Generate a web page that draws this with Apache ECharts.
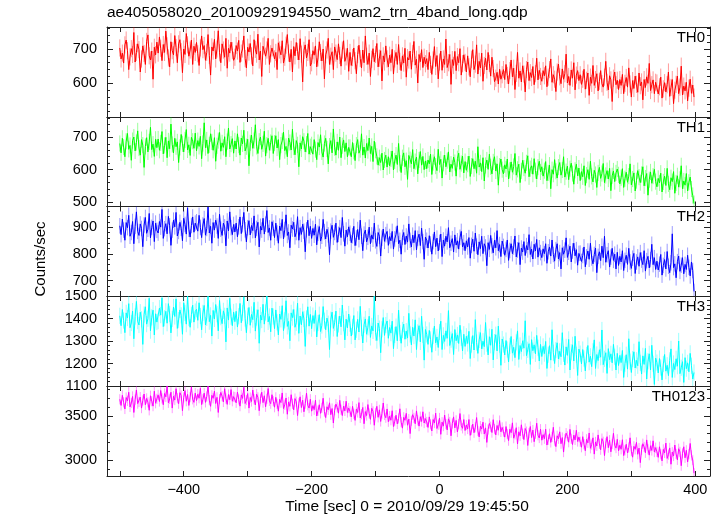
<!DOCTYPE html>
<html>
<head>
<meta charset="utf-8">
<script src="https://cdn.jsdelivr.net/npm/echarts@6.0.0/dist/echarts.min.js"></script>
<style>
html,body{margin:0;padding:0;background:#ffffff;}
#chart{width:723px;height:516px;}
</style>
</head>
<body>
<div id="chart"></div>
<script>
// ---------------- data ----------------
const titleText = "ae405058020_20100929194550_wam2_trn_4band_long.qdp";
const xAxisTitle = "Time [sec] 0 = 2010/09/29 19:45:50";
const yAxisTitle = "Counts/sec";
const bandNames = ["TH0", "TH1", "TH2", "TH3", "TH0123"];
const timeStart = -500;   // first bin time (sec)
const binSize = 2;        // bin width (sec)
const bandErrors = [25, 25, 29, 36, 58];   // typical 1-sigma error bar per band (counts/sec)

const th0 = [
703,671,688,659,712,726,695,640,677,701,684,748,662,690,715,698,633,671,709,687,655,722,741,680,668,694,612,705,683,720,
688,735,702,666,713,690,752,709,674,648,721,695,683,739,704,660,715,727,692,631,700,684,745,712,679,697,726,655,708,690,
719,686,652,703,738,698,710,667,690,742,681,624,706,694,728,671,700,753,689,660,715,697,676,731,644,702,688,720,695,667,
676,710,694,725,661,688,700,738,672,645,705,691,716,680,651,727,699,685,743,668,694,620,708,712,679,697,731,655,686,703,
705,671,690,640,718,697,683,724,659,676,711,742,688,662,699,633,707,680,719,693,668,730,685,604,696,712,674,690,727,651,
660,695,682,709,648,674,721,690,665,700,613,683,697,731,655,679,692,640,706,688,669,715,681,650,697,724,664,677,702,635,
690,652,675,703,666,628,684,711,672,645,697,660,738,679,655,688,620,670,701,663,684,716,648,673,695,607,680,662,709,671,
648,682,660,699,627,671,690,655,713,664,637,680,659,702,618,675,668,694,641,687,722,653,670,601,684,663,698,646,676,657,
672,640,690,655,626,668,707,649,681,613,662,694,638,671,655,729,646,660,684,597,669,652,693,637,678,660,701,624,657,683,
661,633,680,648,619,670,698,640,656,712,627,664,645,688,606,652,673,639,690,658,621,676,643,605,615,632,598,641,612,625,
640,611,655,623,598,637,668,619,644,582,629,690,615,636,604,651,627,575,640,662,608,631,617,649,596,628,673,610,638,620,
606,637,622,651,590,618,640,671,603,625,612,576,633,656,619,599,642,612,628,685,601,620,594,639,615,660,581,624,637,608,
625,597,612,641,583,609,630,565,618,600,652,594,611,628,578,606,637,599,589,618,664,603,581,622,610,547,615,633,596,609,
582,611,594,626,570,600,617,589,645,598,560,608,585,621,597,574,630,593,604,552,611,588,619,600,658,579,596,610,570,603,
601,569,590,618,557,584,602,575,596,633,562,588,611,541,580,597,621,570,589,650,566,592,578,603,549,586,612,571,595,560
];
const th1 = [
681,652,697,670,640,688,712,663,675,629,690,701,658,684,720,667,645,693,676,607,672,699,655,686,731,662,679,641,694,668,
695,660,683,718,649,675,700,637,689,665,741,678,652,697,671,686,622,669,709,680,655,692,724,661,677,644,700,688,666,713,
658,690,672,703,634,681,745,668,692,650,677,711,686,660,699,626,674,690,715,657,683,669,702,640,687,729,664,679,696,651,
689,664,711,676,645,698,680,722,658,671,694,612,683,707,666,690,739,672,650,688,701,663,680,719,642,676,697,660,684,705,
650,682,705,667,693,631,676,689,716,659,672,640,698,684,661,725,670,646,690,677,609,683,664,702,688,655,679,712,648,671,
677,648,693,662,631,684,670,708,655,639,681,697,664,618,673,690,652,726,668,645,686,660,701,637,674,692,656,683,640,669,
669,640,684,657,628,676,693,651,662,711,645,670,636,681,659,698,650,672,625,688,660,641,614,637,622,651,599,630,645,608,
640,612,633,658,599,627,645,616,681,620,591,637,652,609,628,570,644,631,618,662,603,625,639,587,630,656,614,641,600,627,
603,630,618,648,585,622,640,611,597,663,616,632,574,620,645,609,628,655,593,617,604,639,622,580,634,651,601,619,642,590,
625,598,617,642,579,611,634,603,626,589,671,608,621,594,637,565,613,630,601,648,609,587,624,640,596,618,552,611,633,600,
587,615,602,633,571,598,624,592,610,650,583,601,617,560,596,629,605,589,621,643,578,603,612,586,634,597,571,608,626,593,
609,580,597,625,566,590,614,541,600,586,631,595,574,608,622,583,599,640,577,594,611,569,603,620,588,555,598,617,581,605,
566,594,578,612,551,583,600,570,626,579,562,598,585,545,590,607,573,588,619,560,582,597,571,604,535,581,596,563,590,602,
584,556,575,603,545,572,592,561,580,618,553,571,590,534,566,597,577,560,585,609,550,574,588,521,569,593,558,580,601,563,
547,573,559,589,531,562,580,551,604,556,538,575,563,594,527,559,581,546,570,612,541,565,552,588,534,561,577,540,520,495
];
const th2 = [
905,872,930,889,851,917,898,944,866,880,921,838,903,957,884,869,912,895,827,908,936,877,892,951,860,899,923,846,915,888,
878,921,900,966,858,894,913,875,940,905,832,889,926,901,955,867,884,918,896,849,933,910,874,972,892,863,906,938,881,915,
920,885,944,899,861,908,932,870,895,975,878,903,840,917,889,926,904,858,948,892,869,915,901,830,923,886,957,898,872,910,
882,915,864,901,938,876,909,955,890,845,898,924,871,906,887,942,860,895,918,826,903,889,933,874,911,962,880,897,851,920,
896,861,915,878,840,904,887,929,856,891,946,869,882,823,907,893,918,864,880,939,851,898,873,911,885,808,890,926,868,903,
858,895,870,911,834,877,902,848,866,929,883,856,892,871,797,885,907,862,880,915,843,873,898,861,936,875,829,889,864,901,
877,842,868,903,831,860,891,853,926,866,812,874,889,845,862,900,838,871,855,915,849,828,880,866,792,859,893,847,872,884,
832,865,849,884,818,856,873,905,838,851,799,862,880,835,867,844,912,851,826,870,842,887,815,858,874,831,896,846,780,863,
851,822,868,837,799,846,882,827,859,811,843,874,790,852,829,866,845,898,823,840,857,807,871,833,849,818,862,884,826,842,
812,849,826,861,784,832,855,810,878,829,797,845,820,866,801,838,826,756,842,817,869,830,804,851,823,887,812,835,790,848,
828,795,817,852,776,813,838,801,826,867,789,815,842,760,822,807,846,794,831,815,872,798,818,781,836,811,854,788,823,805,
786,819,801,838,765,808,826,792,852,798,773,816,838,781,805,744,823,799,814,860,787,806,829,770,811,840,793,816,758,802,
803,772,794,826,752,789,811,780,840,785,763,798,822,730,791,808,775,829,786,866,769,797,812,751,788,821,776,799,744,806,
757,791,770,812,738,776,795,761,821,770,746,784,802,727,770,789,754,805,777,760,812,736,775,791,748,779,836,760,786,742,
773,740,762,798,721,757,779,744,809,754,730,767,875,749,763,711,771,792,735,758,786,726,761,742,795,750,718,770,738,660
];
const th3 = [
1412,1368,1440,1391,1337,1425,1402,1466,1359,1380,1433,1310,1409,1476,1388,1371,1428,1396,1285,1418,1452,1375,1399,1490,1346,1405,1437,1327,1421,1384,
1388,1446,1415,1492,1364,1401,1432,1379,1466,1420,1336,1398,1451,1409,1487,1356,1393,1438,1414,1330,1470,1425,1375,1500,1402,1361,1417,1459,1384,1431,
1441,1392,1470,1411,1350,1425,1458,1371,1403,1499,1386,1414,1322,1436,1398,1462,1419,1345,1480,1406,1377,1434,1412,1296,1447,1393,1490,1408,1368,1429,
1386,1432,1362,1410,1467,1381,1424,1496,1400,1337,1412,1449,1370,1418,1395,1472,1344,1404,1439,1290,1415,1393,1463,1375,1427,1500,1385,1409,1341,1446,
1409,1355,1438,1383,1327,1420,1396,1457,1346,1392,1479,1365,1387,1301,1425,1404,1440,1361,1381,1468,1334,1411,1372,1430,1398,1276,1400,1452,1366,1418,
1355,1413,1378,1436,1318,1380,1417,1342,1369,1453,1390,1350,1402,1377,1262,1395,1428,1356,1381,1433,1320,1374,1411,1363,1460,1379,1305,1397,1358,1420,
1377,1322,1363,1413,1305,1350,1396,1340,1454,1358,1291,1372,1398,1330,1361,1410,1316,1367,1345,1500,1337,1302,1380,1355,1248,1352,1404,1325,1371,1389,
1312,1360,1335,1388,1266,1327,1364,1301,1437,1336,1290,1349,1375,1308,1344,1313,1423,1329,1283,1361,1322,1394,1262,1338,1368,1296,1410,1327,1215,1351,
1329,1285,1347,1307,1250,1322,1366,1292,1318,1271,1340,1388,1262,1325,1298,1345,1312,1435,1280,1306,1333,1240,1351,1301,1327,1289,1370,1314,1256,1330,
1276,1321,1289,1343,1222,1284,1324,1260,1395,1293,1245,1305,1337,1265,1299,1275,1382,1288,1238,1319,1281,1352,1216,1295,1328,1256,1366,1284,1192,1309,
1284,1238,1302,1262,1207,1278,1320,1246,1272,1226,1294,1345,1218,1280,1253,1301,1268,1390,1235,1261,1288,1196,1306,1257,1283,1243,1325,1270,1211,1285,
1231,1276,1244,1298,1178,1239,1279,1215,1350,1248,1200,1260,1292,1220,1254,1230,1337,1243,1193,1274,1236,1307,1171,1250,1283,1211,1321,1239,1147,1264,
1244,1198,1262,1222,1167,1238,1280,1206,1232,1186,1254,1305,1178,1240,1213,1261,1228,1349,1195,1221,1248,1156,1266,1217,1243,1203,1285,1230,1171,1245,
1191,1236,1204,1258,1138,1199,1239,1175,1310,1208,1160,1220,1252,1180,1214,1190,1297,1203,1153,1234,1196,1267,1131,1210,1243,1171,1281,1199,1107,1224,
1204,1158,1222,1182,1127,1198,1240,1166,1192,1146,1214,1265,1138,1200,1173,1221,1188,1300,1155,1181,1208,1116,1226,1177,1203,1163,1245,1190,1131,1160
];
const th0123 = [
3690,3620,3735,3655,3580,3710,3672,3770,3603,3648,3722,3540,3685,3796,3641,3660,3715,3590,3677,3750,3628,3700,3655,3565,3730,3668,3612,3782,3645,3695,
3740,3665,3790,3700,3628,3756,3718,3842,3650,3695,3770,3590,3725,3681,3810,3702,3640,3765,3733,3560,3712,3789,3668,3745,3620,3715,3830,3690,3655,3760,
3675,3748,3702,3815,3630,3690,3760,3655,3722,3838,3680,3610,3735,3701,3783,3642,3712,3540,3692,3768,3725,3660,3810,3698,3632,3744,3685,3800,3668,3720,
3715,3650,3772,3688,3612,3740,3700,3826,3642,3682,3755,3590,3710,3665,3795,3690,3625,3748,3712,3560,3698,3770,3652,3730,3605,3695,3812,3672,3640,3742,
3668,3600,3712,3638,3555,3690,3652,3762,3585,3628,3705,3520,3660,3610,3742,3637,3570,3698,3662,3505,3645,3718,3596,3680,3548,3640,3760,3622,3590,3690,
3555,3618,3572,3680,3500,3560,3628,3530,3592,3702,3550,3482,3605,3571,3650,3515,3585,3420,3566,3635,3598,3532,3678,3571,3505,3612,3558,3668,3540,3590,
3552,3490,3610,3525,3450,3580,3540,3652,3478,3521,3597,3412,3550,3505,3630,3528,3462,3588,3552,3395,3535,3610,3485,3570,3438,3528,3648,3512,3480,3580,
3435,3498,3452,3560,3380,3440,3508,3410,3472,3582,3430,3362,3485,3451,3530,3395,3465,3300,3446,3515,3478,3412,3558,3451,3385,3492,3438,3548,3420,3470,
3432,3370,3490,3405,3330,3460,3420,3532,3358,3401,3477,3292,3430,3385,3510,3408,3342,3468,3432,3275,3415,3490,3365,3450,3318,3408,3528,3392,3360,3460,
3335,3398,3352,3460,3280,3340,3408,3310,3372,3482,3330,3262,3385,3351,3430,3295,3365,3200,3346,3415,3378,3312,3458,3351,3285,3392,3338,3448,3320,3370,
3322,3260,3380,3295,3220,3350,3310,3422,3248,3291,3367,3182,3320,3275,3400,3298,3232,3358,3322,3165,3305,3380,3255,3340,3208,3298,3418,3282,3250,3350,
3225,3288,3242,3350,3170,3230,3298,3200,3262,3372,3220,3152,3275,3241,3320,3185,3255,3090,3236,3305,3268,3202,3348,3241,3175,3282,3228,3338,3210,3260,
3207,3145,3265,3180,3105,3235,3195,3307,3133,3176,3252,3067,3205,3160,3285,3183,3117,3243,3207,3050,3190,3265,3140,3225,3093,3183,3303,3167,3135,3235,
3105,3168,3122,3230,3050,3110,3178,3080,3142,3252,3100,3032,3155,3121,3200,3065,3135,2970,3116,3185,3148,3082,3228,3121,3055,3162,3108,3218,3090,3140,
3092,3030,3150,3065,2990,3120,3080,3192,3018,3061,3137,2952,3090,3045,3170,3068,3002,3128,3092,2935,3075,3150,3025,3110,2978,3068,3188,3052,3000,2850
];
const bandValues = [th0, th1, th2, th3, th0123];

// tick labels / axis ranges
const xRange = [-520, 423];
const xTickValues = [-500, -400, -300, -200, -100, 0, 100, 200, 300, 400];
const xTickLabels = [-400, -200, 0, 200, 400];
const yRanges = [[502, 764], [486, 763], [643, 977], [1100, 1500], [2818, 3841]];
const yTickLabels = [[600, 700], [500, 600, 700], [700, 800, 900], [1100, 1200, 1300, 1400, 1500], [3000, 3500]];
const yMinorStep = [20, 20, 20, 20, 100];

// ---------------- styling / layout ----------------
const colors = ['#ff0000', '#00ff00', '#0000ff', '#00ffff', '#ff00ff'];
const errColors = ['rgba(255,0,0,0.4)', 'rgba(0,255,0,0.4)', 'rgba(0,0,255,0.4)', 'rgba(0,255,255,0.4)', 'rgba(255,0,255,0.4)'];
const FONT = '"Liberation Sans", Arial, Helvetica, sans-serif';
const frameColor = '#222222';
const plotLeft = 107, plotWidth = 603;
const panelTops = [27, 117, 206.5, 296, 386];
const panelBottom = 476;

function fmt(v) { return v < 0 ? '\u2212' + Math.abs(v) : String(v); }
function minorTicks(range, step) {
  const out = [];
  for (let v = Math.ceil(range[0] / step) * step; v <= range[1]; v += step) out.push(v);
  return out;
}

const grids = [], xAxes = [], yAxes = [], series = [], graphics = [];
const times = th0.map((_, i) => timeStart + i * binSize);

bandNames.forEach((name, i) => {
  const top = panelTops[i];
  const bottom = i < 4 ? panelTops[i + 1] : panelBottom;
  grids.push({ left: plotLeft, width: plotWidth, top: top, height: bottom - top });

  ['bottom', 'top'].forEach((pos) => {
    xAxes.push({
      type: 'value', gridIndex: i, position: pos, min: xRange[0], max: xRange[1],
      splitLine: { show: false },
      axisLine: { show: true, onZero: false, lineStyle: { color: frameColor, width: 1 } },
      axisTick: { show: true, inside: true, length: 5, customValues: xTickValues, lineStyle: { color: frameColor } },
      axisLabel: (pos === 'bottom' && i === 4) ? {
        show: true, customValues: xTickLabels, formatter: fmt, margin: 6,
        fontFamily: FONT, fontSize: 14.5, color: '#000'
      } : { show: false }
    });
  });

  const yr = yRanges[i];
  const minors = minorTicks(yr, yMinorStep[i]).filter(v => yTickLabels[i].indexOf(v) < 0);
  [['left', true, yTickLabels[i], 6], ['right', false, yTickLabels[i], 6], ['left', false, minors, 3], ['right', false, minors, 3]]
    .forEach(([pos, labels, ticks, len], k) => {
      yAxes.push({
        type: 'value', gridIndex: i, position: pos, min: yr[0], max: yr[1],
        splitLine: { show: false },
        axisLine: { show: k < 2, onZero: false, lineStyle: { color: frameColor, width: 1 } },
        axisTick: { show: true, inside: true, length: len, customValues: ticks, lineStyle: { color: frameColor } },
        axisLabel: labels ? {
          show: true, customValues: yTickLabels[i], formatter: fmt, margin: 10,
          fontFamily: FONT, fontSize: 14.5, color: '#000'
        } : { show: false }
      });
    });

  const pts = bandValues[i].map((v, j) => [times[j], v]);
  const err = bandErrors[i];
  const errColor = errColors[i];
  series.push({
    type: 'custom', name: name + ' err', xAxisIndex: 2 * i, yAxisIndex: 4 * i,
    data: pts, clip: true, z: 1, silent: true,
    renderItem: function (params, api) {
      const x = api.value(0), y = api.value(1);
      const a = api.coord([x, y - err]), b = api.coord([x, y + err]);
      return { type: 'line', shape: { x1: a[0], y1: a[1], x2: b[0], y2: b[1] }, style: { stroke: errColor, lineWidth: 1 } };
    }
  });
  series.push({
    type: 'line', name: name, xAxisIndex: 2 * i, yAxisIndex: 4 * i,
    data: pts, z: 2,
    showSymbol: false, symbol: 'none', clip: true,
    lineStyle: { color: colors[i], width: 1 },
    itemStyle: { color: colors[i] }
  });

  graphics.push({
    type: 'text', right: 723 - 705, top: top + 3,
    style: { text: name, font: '15px ' + FONT, fill: '#000' }
  });
});

graphics.push({ type: 'text', left: plotLeft, top: 5, style: { text: titleText, font: '15.5px ' + FONT, fill: '#000' } });
graphics.push({ type: 'text', x: 407, y: 507, style: { text: xAxisTitle, font: '15.5px ' + FONT, fill: '#000', align: 'center', verticalAlign: 'middle' } });
graphics.push({ type: 'text', x: 41, y: 259, rotation: Math.PI / 2, style: { text: yAxisTitle, font: '15px ' + FONT, fill: '#000', align: 'center', verticalAlign: 'middle' } });

const chart = echarts.init(document.getElementById('chart'), null, { renderer: 'canvas' });
chart.setOption({
  animation: false,
  backgroundColor: '#ffffff',
  grid: grids,
  xAxis: xAxes,
  yAxis: yAxes,
  series: series,
  graphic: graphics
});
</script>
</body>
</html>
